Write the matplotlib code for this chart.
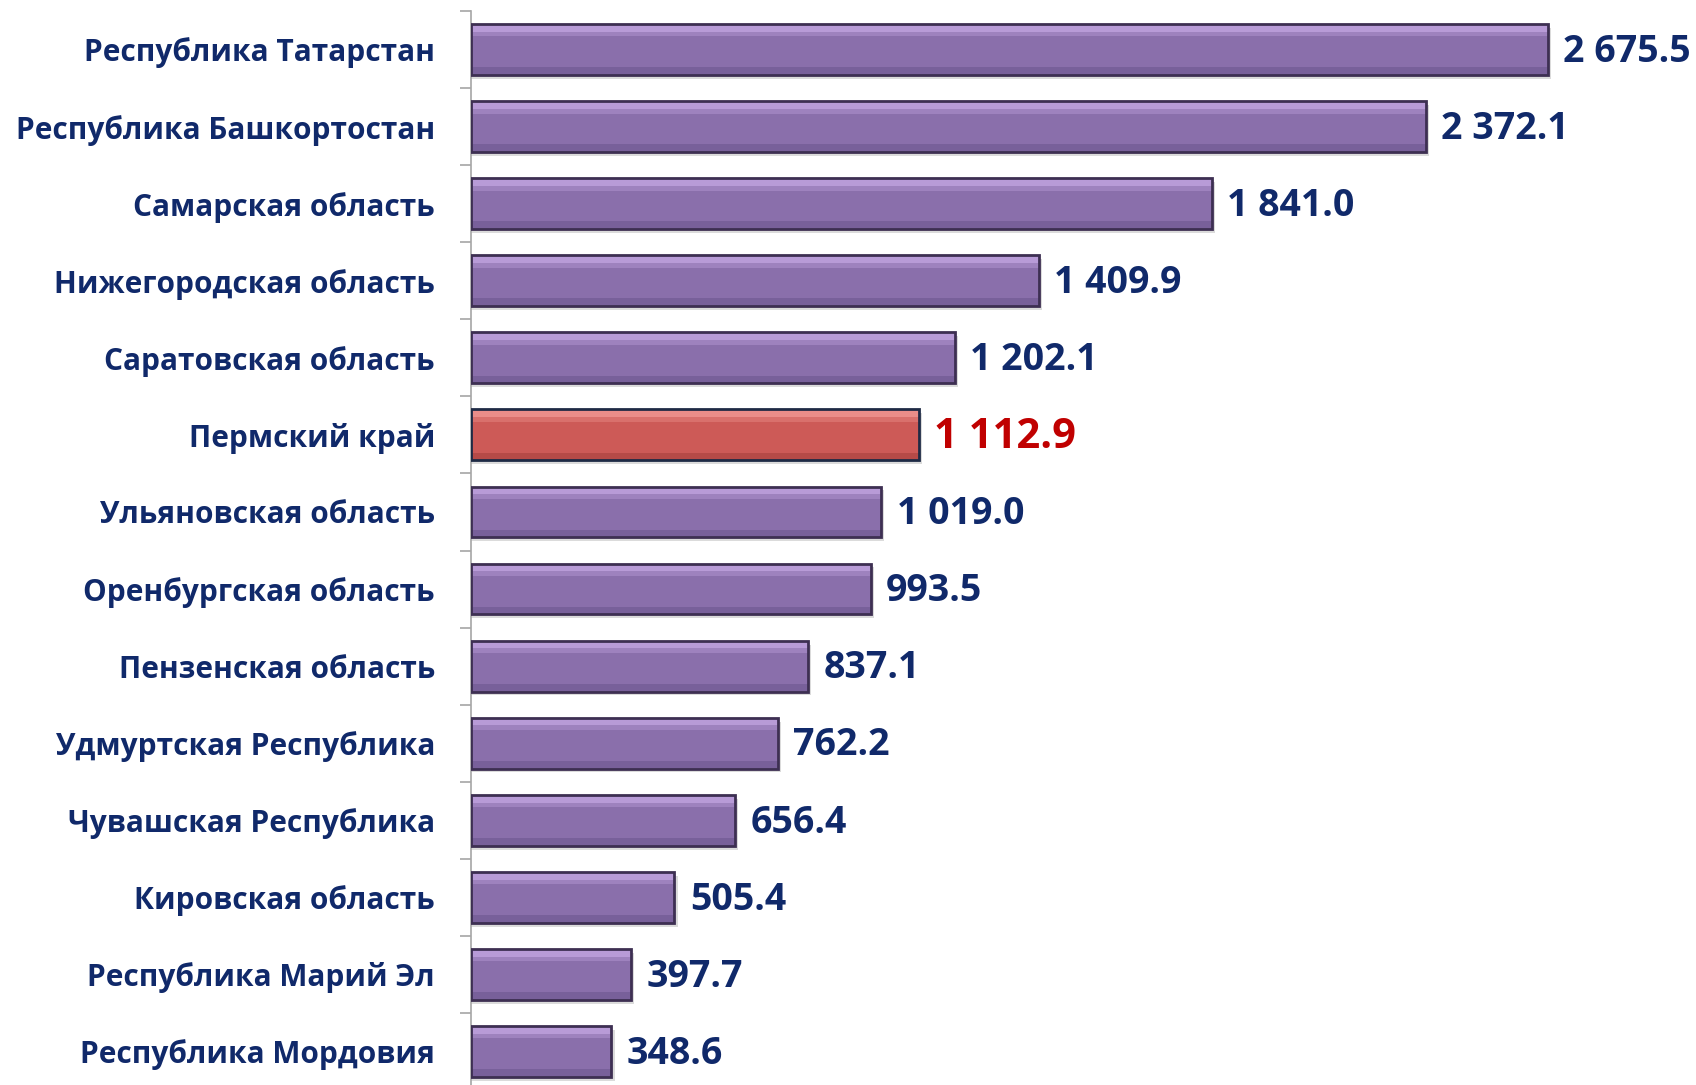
import matplotlib.pyplot as plt
import numpy as np

regions = ["Республика Татарстан", "Республика Башкортостан", "Самарская область",
           "Нижегородская область", "Саратовская область", "Пермский край",
           "Ульяновская область", "Оренбургская область", "Пензенская область",
           "Удмуртская Республика", "Чувашская Республика", "Кировская область",
           "Республика Марий Эл", "Республика Мордовия"]
values = [2675.5, 2372.1, 1841.0, 1409.9, 1202.1, 1112.9, 1019.0, 993.5,
          837.1, 762.2, 656.4, 505.4, 397.7, 348.6]
highlight = "Пермский край"

plt.rcParams['font.family'] = ['Open Sans', 'DejaVu Sans']
navy = '#10296a'

W, H = 1696, 1085
fig = plt.figure(figsize=(W / 100, H / 100), dpi=100)
ax = fig.add_axes([471 / W, 1 - 11 / H - 1079 / H, 1 - 471 / W, 1079 / H])

y = np.arange(len(values))
hgt = 0.66
for yi, v, name in zip(y, values, regions):
    hot = name == highlight
    face = '#cd5a57' if hot else '#8a6fab'
    light = '#f29a96' if hot else '#c4a7e3'
    dark = '#a8403d' if hot else '#6c5690'
    edge = '#1e2a45' if hot else '#3d2f52'
    # shadow
    ax.barh(yi + 0.05, v + 8, height=hgt, color='#b8b8b8', alpha=0.5, zorder=1)
    ax.barh(yi, v, height=hgt, color=face, zorder=2)
    # bevel highlights
    ax.barh(yi - hgt / 2 + 0.05, v, height=0.1, color=light, alpha=0.8, zorder=3)
    ax.barh(yi - hgt / 2 + 0.13, v, height=0.06, color=light, alpha=0.35, zorder=3)
    ax.barh(yi + hgt / 2 - 0.05, v, height=0.1, color=dark, alpha=0.6, zorder=3)
    ax.barh(yi, v, height=hgt, facecolor='none', edgecolor=edge, linewidth=2, zorder=4)
    label = f"{v:,.1f}".replace(',', ' ')
    ax.text(v + 38, yi + 0.03, label, va='center', ha='left',
            fontsize=30 if hot else 27, fontweight='bold',
            color='#c00000' if hot else navy, zorder=5)

ax.set_ylim(len(values) - 0.5, -0.5)
ax.set_xlim(0, 3043)
ax.set_yticks(y)
ax.set_yticklabels(regions, fontsize=21.5, fontweight='bold', color=navy)
ax.tick_params(axis='y', which='major', length=0, pad=26)
ax.set_yticks(np.arange(len(values) + 1) - 0.5, minor=True)
ax.tick_params(axis='y', which='minor', length=8, width=1.2, color='#a6a6a6')
ax.set_xticks([])
for s in ['top', 'right', 'bottom']:
    ax.spines[s].set_visible(False)
ax.spines['left'].set_color('#a6a6a6')
ax.spines['left'].set_linewidth(1.2)

fig.savefig('out.png', dpi=100)
